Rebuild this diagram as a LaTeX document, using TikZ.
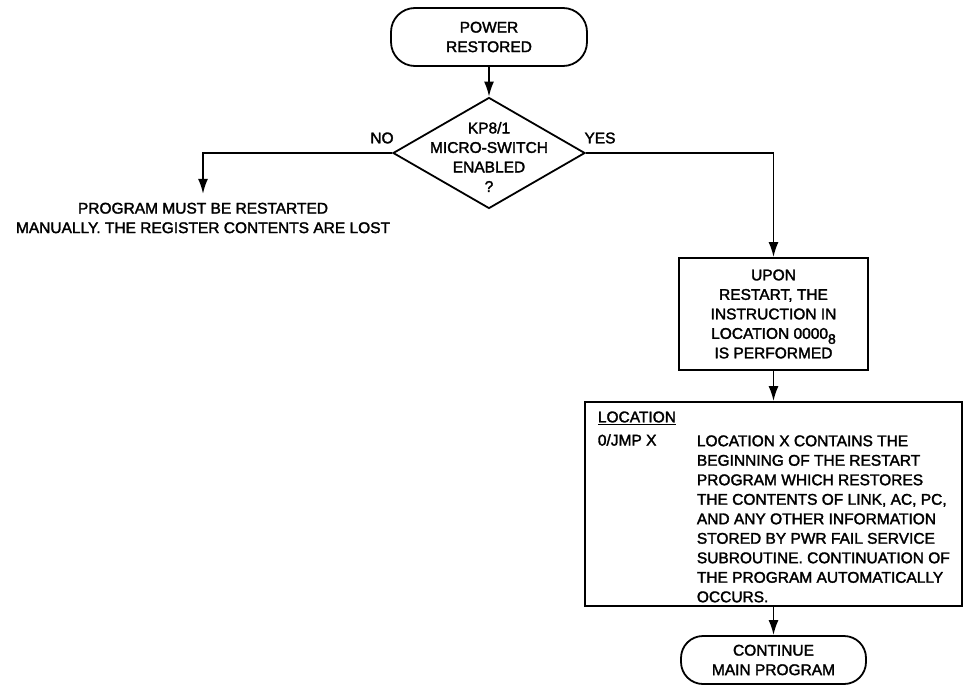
\documentclass[tikz,border=0pt]{standalone}
\usepackage{fontspec}
\setmainfont{Liberation Sans}[FakeBold=2]
\usetikzlibrary{arrows.meta,shapes.geometric}

\begin{document}
\begin{tikzpicture}[x=1pt, y=-1pt, line width=1.8pt,
	every node/.style={font=\fontsize{15.5}{19.5}\selectfont, align=center, inner sep=0pt},
	>={Latex[length=15pt, width=10pt]},
	term/.style={draw, rectangle, rounded corners=24pt},
	stepbox/.style={draw, rectangle},
	decision/.style={draw, diamond, minimum width=192pt, minimum height=111pt}]
	\useasboundingbox (0,0) rectangle (963,685);
	% start and decision
	\node[term, minimum width=196pt, minimum height=58pt] (power) at (489,37) {POWER\\RESTORED};
	\node[decision] (dec) at (489,153) {};
	\node (ask) at (489,157) {KP8/1\\MICRO-SWITCH\\ENABLED\\?};
	\node (nolbl) at (382,138) {NO};
	\node (yeslbl) at (600,138) {YES};
	% NO branch
	\node[inner sep=8pt] (lost) at (203,218) {PROGRAM MUST BE RESTARTED\\MANUALLY. THE REGISTER CONTENTS ARE LOST};
	% YES branch
	\node[stepbox, minimum width=189pt, minimum height=112pt] (restart) at (773.5,314)
		{UPON\\RESTART, THE\\INSTRUCTION IN\\LOCATION 0000\raisebox{-5pt}{\fontsize{14}{14}\selectfont 8}\\IS PERFORMED};
	\node[stepbox, minimum width=377pt, minimum height=204pt] (loc) at (773.5,504) {};
	\node[anchor=west] (lochdr) at (597,418) {\underline{LOCATION}};
	\node[anchor=west] (jmp) at (597,440) {0/JMP X};
	\node[anchor=north west, align=left] (desc) at (696,434.5) {LOCATION X CONTAINS THE\\BEGINNING OF THE RESTART\\PROGRAM WHICH RESTORES\\THE CONTENTS OF LINK, AC, PC,\\AND ANY OTHER INFORMATION\\STORED BY PWR FAIL SERVICE\\SUBROUTINE. CONTINUATION OF\\THE PROGRAM AUTOMATICALLY\\OCCURS.};
	\node[term, minimum width=185pt, minimum height=48pt, rounded corners=22pt] (cont) at (773.5,660) {CONTINUE\\MAIN PROGRAM};
	% connectors
	\draw[->] (power) -- (dec.north);
	\draw[->] (dec.west) -| (lost.north);
	\draw[->] (dec.east) -| (restart.north);
	\draw[->] (restart) -- (loc);
	\draw[->] (loc) -- (cont);
\end{tikzpicture}
\end{document}
